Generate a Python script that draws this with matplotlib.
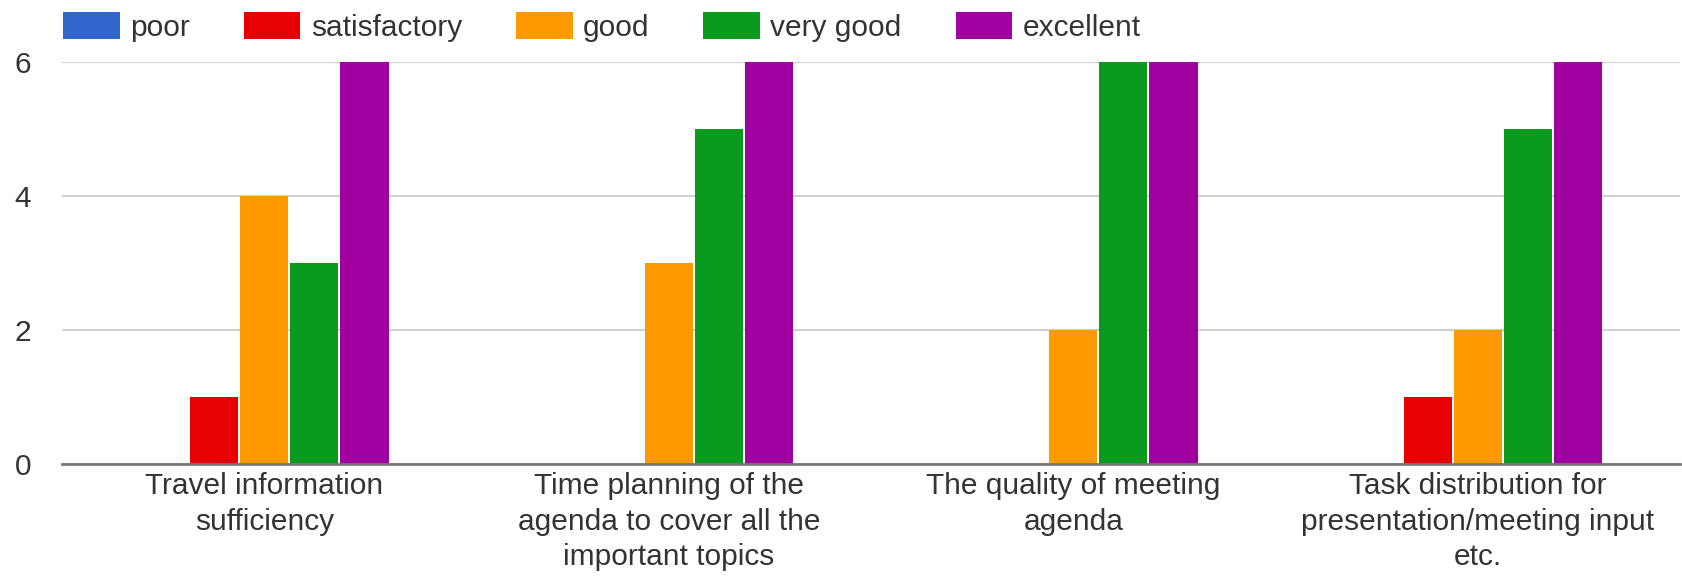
import numpy as np
import matplotlib
matplotlib.use("Agg")
import matplotlib.pyplot as plt

# ======================
# Chart data
categories = [
    "Travel information\nsufficiency",
    "Time planning of the\nagenda to cover all the\nimportant topics",
    "The quality of meeting\nagenda",
    "Task distribution for\npresentation/meeting input\netc.",
]
series_names = ["poor", "satisfactory", "good", "very good", "excellent"]
poor = [0, 0, 0, 0]
satisfactory = [1, 0, 0, 1]
good = [4, 3, 2, 2]
very_good = [3, 5, 6, 5]
excellent = [6, 6, 6, 6]
y_ticks = [0, 2, 4, 6]

# ======================
colors = ["#3366cc", "#e60000", "#ff9900", "#0a9a1e", "#a0009f"]
series_values = [poor, satisfactory, good, very_good, excellent]

plt.rcParams['font.family'] = ['Liberation Sans', 'DejaVu Sans']
text_color = "#333333"
font_size = 21.5

fig = plt.figure(figsize=(16.82, 5.80), dpi=100)
ax = fig.add_axes([62 / 1682, 1 - 464 / 580, 1618 / 1682, (464 - 62) / 580])

x = np.arange(len(categories))
step = 0.124
bar_width = 0.119
for k, (name, values) in enumerate(zip(series_names, series_values)):
    ax.bar(x + (k - 2) * step, values, width=bar_width, color=colors[k], label=name, zorder=3)

ax.set_xlim(-0.5, 3.5)
ax.set_ylim(0, 6)
ax.set_yticks(y_ticks)
ax.set_xticks(x)
ax.set_xticklabels(categories, fontsize=font_size, color=text_color, linespacing=1.33)
ax.tick_params(axis='y', length=0, pad=28, labelsize=font_size, labelcolor=text_color)
ax.tick_params(axis='x', length=0, pad=6)
for label in ax.get_yticklabels():
    label.set_horizontalalignment('center')

ax.grid(axis='y', color="#d0d0d0", linewidth=1.5, zorder=0)
for side in ["left", "right", "top"]:
    ax.spines[side].set_visible(False)
ax.spines["bottom"].set_color("#777777")
ax.spines["bottom"].set_linewidth(2)
ax.spines["bottom"].set_zorder(4)

fig.legend(loc="center left", bbox_to_anchor=(63 / 1682, 1 - 27 / 580), ncol=5,
           frameon=False, fontsize=font_size, labelcolor=text_color,
           handlelength=1.9, handleheight=1.0, handletextpad=0.35,
           columnspacing=1.8, borderpad=0, borderaxespad=0)

fig.savefig("out.png", dpi=100)
